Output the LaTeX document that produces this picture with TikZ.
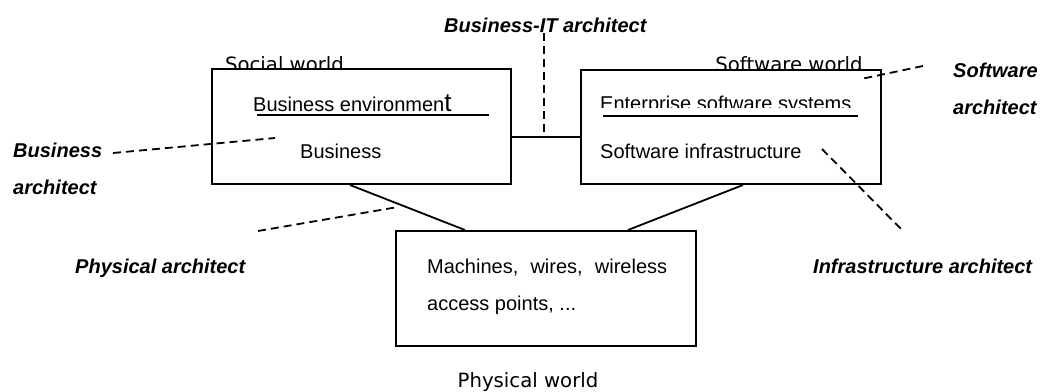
\documentclass[tikz,border=0pt]{standalone}
\usepackage{fontspec}
\setmainfont{Liberation Sans}
\newfontfamily\dvsans{DejaVu Sans}
\tikzset{
  worldbox/.style={draw, fill=white, line width=2pt, inner sep=0pt, rectangle},
  txt/.style={anchor=base west, inner sep=0pt, font=\fontsize{20}{24}\selectfont},
  role/.style={anchor=base west, inner sep=0pt, font=\fontsize{20}{24}\selectfont\bfseries\itshape},
  worldlabel/.style={anchor=base, inner sep=0pt, font=\dvsans\fontsize{19.7}{24}\selectfont},
  link/.style={line width=1.8pt},
  roleline/.style={line width=1.8pt, dash pattern=on 8pt off 5pt},
  rule/.style={line width=1.8pt}
}
\begin{document}
\begin{tikzpicture}[x=1pt,y=-1pt]
\useasboundingbox (0,0) rectangle (1040,391);
% world labels (behind the boxes)
\node[worldlabel] (socw) at (284.5,71.5) {Social world};
\node[worldlabel] (softw) at (789,71.5) {Software world};
\node[worldlabel] (physw) at (528,387) {Physical world};
% boxes
\node[worldbox, minimum width=299pt, minimum height=115pt] (lb) at (361.5,126.5) {};
\node[worldbox, minimum width=300pt, minimum height=114pt] (rb) at (730.5,127) {};
\node[worldbox, minimum width=300pt, minimum height=115pt] (bb) at (546,288.5) {};
% box contents
\node[txt] (benv) at (253,111) {Business environmen{\fontsize{26}{24}\selectfont t}};
\coordinate (bul1) at (257,115);
\coordinate (bul2) at (489,115);
\draw[rule] (bul1) -- (bul2);
\node[txt] (bus) at (300,158) {Business};
\begin{scope}
\clip (590,80) rectangle (870,107.5);
\node[txt] (ent) at (600,110) {Enterprise software systems};
\end{scope}
\coordinate (sul1) at (603,116);
\coordinate (sul2) at (858,116);
\draw[rule] (sul1) -- (sul2);
\node[txt] (sinf) at (600,158) {Software infrastructure};
\node[txt] (mach1) at (427,273) {\makebox[240pt][s]{Machines, wires, wireless}};
\node[txt] (mach2) at (427,310) {access points, ...};
% connectors between worlds
\draw[link] ([yshift=-10.5pt]lb.east) -- ([yshift=-10pt]rb.west);
\draw[link] ([xshift=-11.5pt]lb.south) -- ([xshift=-81pt]bb.north);
\draw[link] ([xshift=12.5pt]rb.south) -- ([xshift=82pt]bb.north);
% role labels
\node[role] (bita) at (444,32) {Business-IT architect};
\node[role] (ba1) at (13,157) {Business};
\node[role] (ba2) at (13,194) {architect};
\node[role] (pa) at (75,273) {Physical architect};
\node[role] (sa1) at (953,77) {Software};
\node[role] (sa2) at (953,114) {architect};
\node[role] (ia) at (813,273) {Infrastructure architect};
% role dashed lines
\coordinate (bitTop) at (544,33);
\coordinate (bitBot) at (544,137);
\draw[roleline] (bitTop) -- (bitBot);
\coordinate (baA) at (113,153);
\coordinate (baB) at (275,138);
\draw[roleline] (baA) -- (baB);
\coordinate (paA) at (258,231);
\coordinate (paB) at (398,207);
\draw[roleline] (paA) -- (paB);
\coordinate (saA) at (923,66);
\coordinate (saB) at (861,79);
\draw[roleline] (saA) -- (saB);
\coordinate (iaA) at (822,149);
\coordinate (iaB) at (903,231);
\draw[roleline] (iaA) -- (iaB);
\end{tikzpicture}
\end{document}
